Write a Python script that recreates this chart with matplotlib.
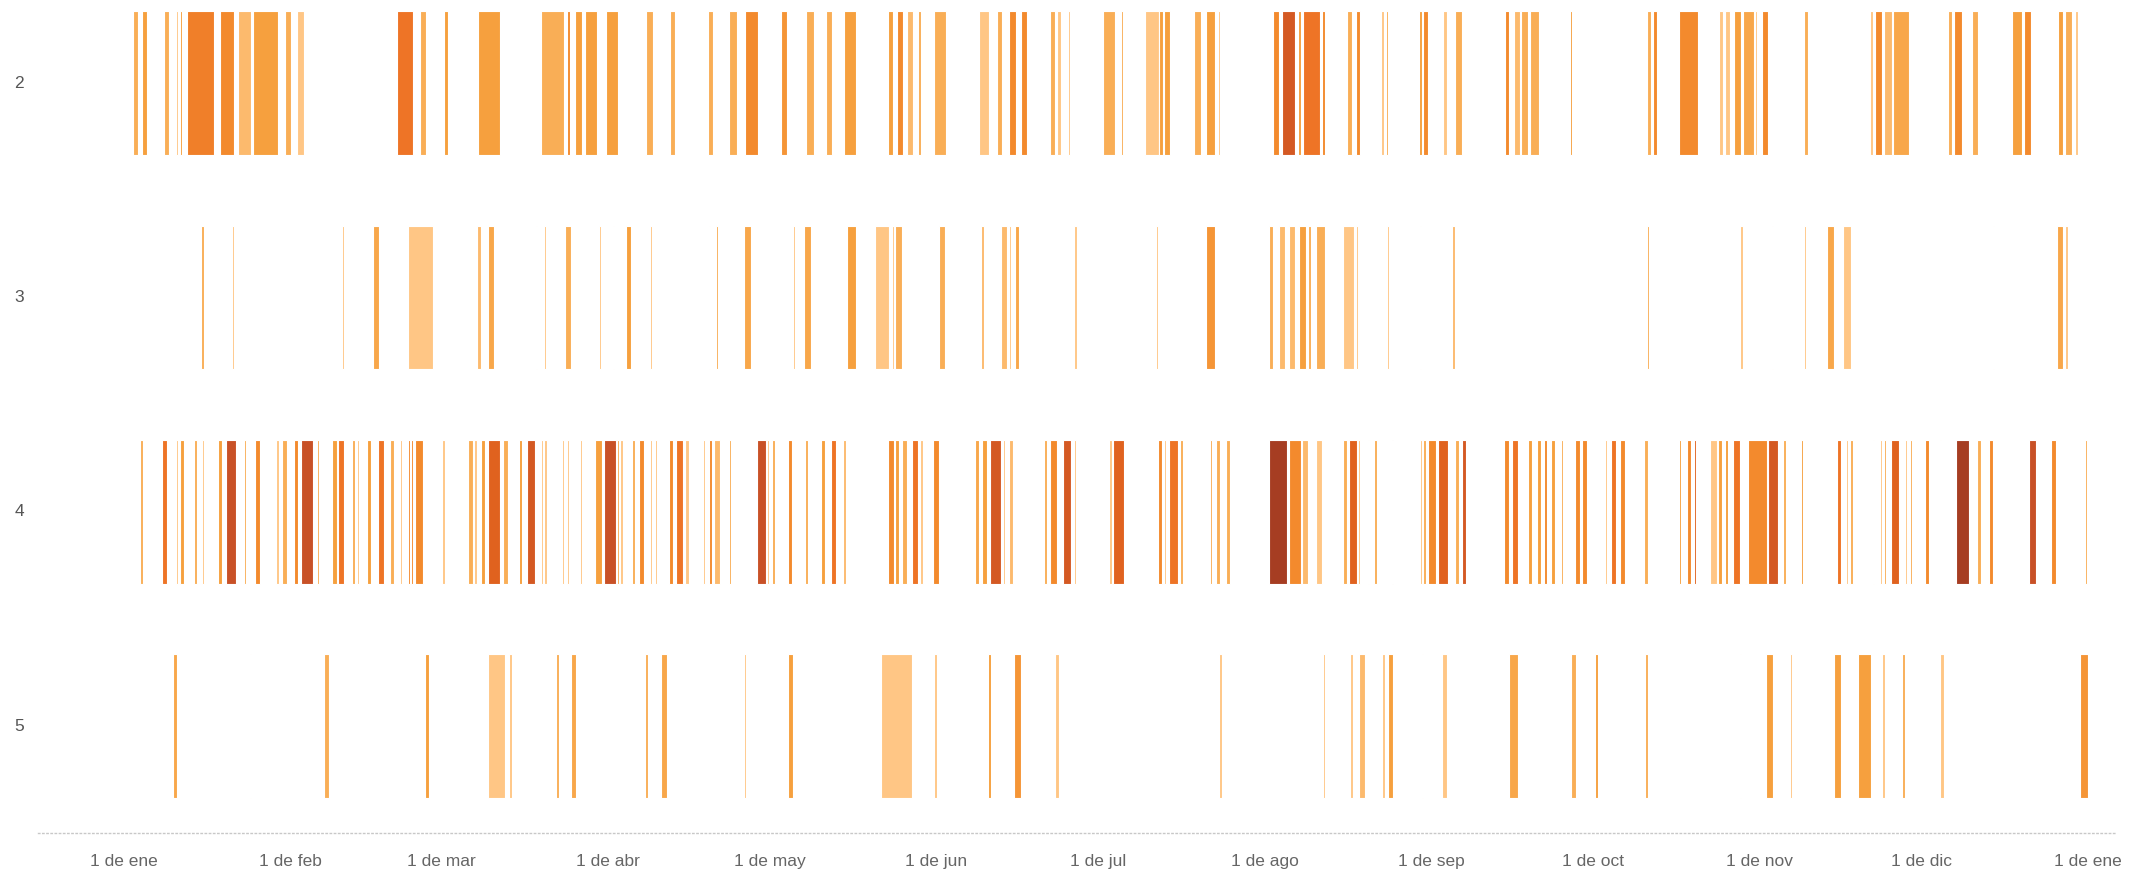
import matplotlib
matplotlib.use('Agg')
import matplotlib.pyplot as plt
from matplotlib.colors import LinearSegmentedColormap, Normalize
import pandas as pd
import numpy as np

# row categories
rows = ['2', '3', '4', '5']

# each bar: start day (days after 1 Jan), end day, colour level (1 light .. 8 dark)
r2_start = [1.8, 3.5, 7.6, 9.7, 10.5, 11.0, 11.8, 17.9, 21.3, 24.0, 29.9, 32.3, 50.8, 55.0, 59.5, 65.9,
            77.6, 82.3, 83.9, 85.7, 89.6, 97.0, 101.5, 108.6, 112.5, 115.4, 122.2, 126.7, 130.5, 133.9,
            142.1, 143.7, 145.6, 147.6, 150.6, 158.9, 162.2, 164.6, 166.7, 172.2, 173.4, 175.5, 181.9,
            185.3, 189.7, 192.4, 193.4, 198.8, 201.2, 203.4, 213.5, 215.3, 218.2, 219.1, 222.6, 226.6,
            227.3, 228.9, 233.6, 234.5, 240.6, 241.5, 245.2, 247.4, 256.7, 258.3, 259.7, 261.3, 268.7,
            283.0, 284.1, 288.9, 296.4, 297.6, 299.3, 300.8, 303.1, 304.4, 312.2, 324.4, 325.5, 327.0,
            328.8, 338.9, 340.1, 343.4, 350.8, 353.1, 359.4, 360.7, 362.5]
r2_end = [2.6, 4.4, 8.5, 10.2, 10.9, 11.3, 16.8, 20.6, 23.7, 28.7, 31.1, 33.5, 53.8, 56.2, 60.3, 69.9,
          81.8, 83.0, 85.1, 88.0, 91.9, 98.4, 102.4, 109.6, 114.0, 117.8, 123.2, 128.3, 131.6, 136.0,
          142.9, 144.9, 146.6, 148.2, 152.8, 160.7, 163.3, 165.9, 167.9, 173.0, 174.2, 175.9, 184.2,
          185.7, 192.3, 193.2, 194.5, 200.2, 202.7, 203.8, 214.7, 217.7, 218.7, 222.3, 223.3, 226.8,
          228.2, 229.8, 234.2, 235.0, 241.2, 242.4, 245.9, 248.6, 257.5, 259.4, 260.9, 263.0, 269.2,
          283.7, 284.9, 292.5, 297.2, 298.5, 300.6, 303.0, 303.5, 305.6, 313.0, 325.0, 326.7, 328.5,
          331.8, 339.8, 341.6, 344.6, 352.8, 354.4, 360.4, 362.1, 363.1]
r2_level = [2, 3, 2, 1, 3, 3, 4.5, 4, 1.5, 3, 2, 1, 5, 2, 3, 3,
            2, 4, 3, 3, 3, 2, 2, 2, 2, 4, 3.5, 2, 2, 3,
            3, 4, 1.5, 2, 2, 1, 2, 4, 4, 2, 1, 1, 2,
            2, 1, 3, 3, 2, 3, 1, 4, 6.5, 3, 5, 4, 1,
            2, 4, 1, 2, 3, 4, 1, 2, 4, 1.5, 2, 2, 3,
            2, 4, 4, 1, 1, 3, 2.5, 1, 4, 2, 1, 4, 1.5,
            2.5, 2, 4, 2, 3, 4, 3, 2, 1]

r3_start = [14.4, 20.2, 40.6, 46.4, 52.8, 65.6, 67.8, 76.6, 78.2, 82.1, 88.4, 90.9, 93.3, 97.8, 108.7,
            110.0, 115.2, 124.4, 126.5, 134.5, 139.6, 142.8, 143.4, 151.5, 159.3, 163.1, 164.6,
            165.6, 176.6, 191.9, 201.1, 212.9, 214.7, 216.5, 218.3, 220.1, 221.5, 226.6, 229.0, 234.7,
            240.8, 246.8, 283.0, 300.4, 306.2, 312.2, 316.5, 319.4, 347.3, 359.3, 360.7]
r3_end = [15.0, 20.5, 40.9, 47.4, 57.4, 66.4, 68.8, 76.9, 78.5, 83.1, 88.7, 91.2, 94.3, 98.1, 109.0,
          110.5, 116.5, 124.8, 127.7, 136.0, 142.2, 143.1, 144.7, 152.6, 159.9, 164.1, 164.9,
          166.4, 177.1, 192.2, 202.8, 213.5, 215.7, 217.7, 219.6, 220.7, 223.3, 228.6, 229.4, 235.1,
          241.1, 247.4, 283.5, 300.8, 306.5, 312.5, 317.7, 321.0, 347.6, 360.4, 361.3]
r3_level = [2, 1, 1, 2.5, 1, 1.5, 2.5, 1, 1, 2, 1, 1, 3, 1, 1,
            2, 2.5, 1, 2.5, 3, 1, 1, 2, 2, 1.5, 1.5, 1,
            2.5, 1, 1, 3.5, 2, 1.5, 1.5, 3, 2, 2, 1, 1, 1,
            1, 1.5, 2, 1, 1, 1, 2.5, 1, 1, 2.5, 1]

r4_start = [3.1, 7.2, 9.8, 10.4, 13.1, 14.6, 17.6, 19.1, 22.3, 24.4, 28.3, 29.4, 31.6, 32.9, 36.0, 38.7,
            39.8, 42.5, 43.3, 45.2, 47.2, 49.5, 51.4, 52.8, 53.4, 54.1, 59.1, 63.9, 65.2, 66.5, 67.8,
            70.5, 73.4, 75.0, 77.6, 78.2, 81.4, 82.4, 84.8, 87.6, 89.3, 91.6, 92.3, 94.4, 95.8, 97.8,
            98.8, 101.4, 102.7, 104.4, 107.7, 108.7, 109.7, 112.5, 117.6, 119.5, 120.4, 123.4, 126.6,
            129.5, 131.5, 133.7, 142.0, 143.4, 144.7, 146.4, 148.0, 150.3, 158.1, 159.5, 161.0, 163.4,
            164.6, 171.0, 172.1, 174.5, 176.6, 183.1, 183.8, 192.1, 193.3, 194.2, 196.2, 201.9, 203.0,
            204.9, 212.9, 216.5, 219.0, 221.5, 226.6, 227.7, 229.3, 231.2, 232.3, 235.6, 240.8, 241.5,
            242.4, 244.3, 247.4, 248.6, 256.4, 257.9, 261.0, 262.7, 263.9, 265.2, 267.0, 269.7, 270.9,
            275.2, 276.4, 278.0, 282.4, 289.0, 290.4, 291.7, 294.8, 296.3, 297.6, 299.1, 301.2, 301.8,
            305.6, 308.3, 311.6, 318.4, 320.0, 320.7, 325.0, 326.4, 327.0, 328.3, 331.0, 331.9, 334.7,
            337.4, 340.4, 344.3, 346.5, 354.0, 358.2, 364.4]
r4_end = [3.6, 8.0, 10.1, 11.2, 13.6, 15.0, 18.2, 20.9, 22.7, 25.3, 28.8, 30.4, 32.5, 35.2, 36.4, 39.6,
          41.0, 43.0, 43.8, 45.9, 48.4, 50.2, 51.8, 53.2, 53.7, 55.6, 59.7, 65.0, 65.6, 67.2, 69.9,
          71.4, 74.0, 76.4, 78.0, 78.7, 81.8, 82.8, 85.2, 88.9, 91.4, 92.1, 92.8, 95.0, 96.7, 98.2,
          99.2, 102.0, 104.0, 105.1, 108.1, 109.3, 110.8, 112.9, 119.3, 120.0, 121.0, 124.1, 127.2,
          130.4, 132.4, 134.3, 143.2, 144.1, 145.6, 147.6, 148.6, 151.5, 159.0, 160.5, 163.1, 163.7,
          165.3, 171.5, 173.4, 176.1, 177.0, 183.6, 185.8, 193.0, 193.7, 195.9, 196.9, 202.3, 203.7,
          205.6, 216.2, 218.8, 220.1, 222.7, 227.3, 229.1, 229.7, 231.4, 232.8, 235.9, 241.2, 242.0,
          243.8, 246.0, 248.2, 249.5, 257.5, 259.1, 261.6, 263.3, 264.5, 265.9, 267.5, 270.6, 271.9,
          275.6, 277.2, 279.0, 283.2, 289.4, 291.3, 292.2, 296.1, 296.9, 298.1, 300.3, 301.5, 305.4,
          307.3, 308.9, 312.1, 319.0, 320.3, 321.3, 325.3, 326.7, 327.5, 329.9, 331.3, 332.3, 335.5,
          337.7, 342.9, 345.1, 347.4, 355.4, 359.1, 364.8]
r4_level = [2, 5, 1, 3, 2, 1, 3, 7, 2, 4, 1, 2, 4, 7, 2, 3,
            5, 2, 1, 3, 5, 2, 1, 4, 4, 4, 1, 2, 1, 3, 6,
            2, 3, 6.5, 1, 1, 1, 1, 1, 3, 7, 2, 1, 2, 4, 1,
            1, 4, 5, 1, 1, 4, 1.5, 2, 7, 1, 2, 4, 2,
            3, 5, 1.5, 4, 3, 2, 5, 1, 4, 2.5, 3, 6.5, 1,
            1.5, 2, 4, 6.5, 1, 1, 6, 4, 1, 5, 2, 2, 2,
            2, 8, 4, 1.5, 1, 2, 6, 1, 1, 2, 4, 1, 2,
            4, 6, 2, 6.5, 4, 5, 3, 3, 4, 3, 2, 4, 4,
            1, 5, 4, 2, 3, 4, 6, 1, 3, 3, 5, 1, 4,
            6.5, 2, 3, 5, 1, 2, 1, 1, 2, 6, 1, 2, 4,
            1, 8, 2, 4, 7, 4, 2]

r5_start = [9.2, 23.4, 37.3, 56.0, 67.8, 71.7, 80.3, 83.2, 96.9, 99.8, 115.3, 123.5, 140.8, 150.6, 160.6,
            165.5, 172.1, 173.0, 203.6, 222.9, 227.9, 229.6, 233.8, 235.0, 241.2, 245.0, 257.5, 269.0,
            273.4, 282.7, 300.3, 305.2, 309.6, 317.7, 322.3, 326.7, 330.4, 337.5, 363.5]
r5_end = [10.0, 23.7, 38.1, 56.8, 70.9, 72.1, 80.9, 84.0, 97.5, 101.0, 115.7, 124.4, 146.5, 151.1, 161.2,
          166.7, 172.4, 173.8, 204.1, 223.2, 228.5, 230.7, 234.3, 235.8, 241.5, 245.8, 259.1, 269.8,
          273.9, 283.3, 300.6, 306.5, 309.9, 319.0, 324.6, 327.3, 330.9, 338.3, 365.0]
r5_level = [2.5, 1, 2, 3, 1, 1, 2, 2.5, 2, 2.5, 1, 3, 1, 1, 3,
            3.5, 1, 1, 1, 1, 1, 1.5, 1, 3, 1, 1, 2.5, 2,
            3, 2, 1, 3, 1, 3, 3, 1, 2, 1, 3.5]

# month labels of the date axis
months_es = ['ene', 'feb', 'mar', 'abr', 'may', 'jun', 'jul', 'ago', 'sep', 'oct', 'nov', 'dic', 'ene']

row_data = [(r2_start, r2_end, r2_level), (r3_start, r3_end, r3_level),
            (r4_start, r4_end, r4_level), (r5_start, r5_end, r5_level)]

# orange sequential palette (light -> dark)
cmap = LinearSegmentedColormap.from_list('oranges', ['#FFC685', '#F9AE55', '#F6A03E', '#F38A2D',
                                                      '#EE7426', '#E0621F', '#C85127', '#A63D22'])
norm = Normalize(1, 8)

fig = plt.figure(figsize=(21.51, 8.73), dpi=100)
ax = fig.add_axes([38/2151, 40/873, 2077/2151, 833/873])

bar_h = 0.671
for i, (s, e, lv) in enumerate(row_data):
    s = np.array(s); e = np.array(e)
    ax.broken_barh(list(zip(s, e - s)), (i - bar_h/2, bar_h),
                   facecolors=cmap(norm(np.array(lv))), edgecolor='white', linewidth=0.8)

# row labels sit left of the plot area
for i, lab in enumerate(rows):
    fig.text(19/2151, 1 - (83 + 214.5*i)/873, lab, ha='center', va='center', fontsize=12.5,
             family='Liberation Sans', color='#555555')

ax.set_xlim(-15.9, 370.0)
ax.set_ylim(3.497, -0.387)

# month start ticks
month_starts = pd.date_range('2023-01-01', '2024-01-01', freq='MS')
tick_days = (month_starts - pd.Timestamp('2023-01-01')).days
ax.set_xticks(tick_days)
ax.set_xticklabels(['1 de ' + m for m in months_es], fontsize=12.5, family='Liberation Sans', color='#666666')
ax.tick_params(axis='x', length=0, pad=15)
ax.set_yticks([])

for sp in ['top', 'left', 'right']:
    ax.spines[sp].set_visible(False)
ax.spines['bottom'].set_linestyle((0, (1, 2)))
ax.spines['bottom'].set_color('#c8c8c8')
ax.spines['bottom'].set_linewidth(1)

fig.savefig('out.png', dpi=100)
